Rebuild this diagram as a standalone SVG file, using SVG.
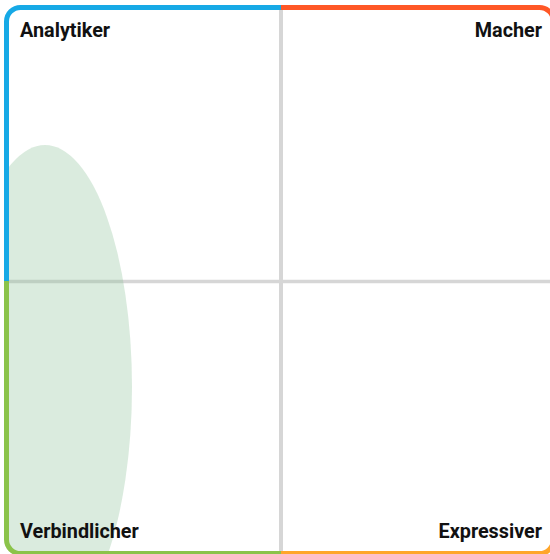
<svg xmlns="http://www.w3.org/2000/svg" width="550" height="554" viewBox="0 0 550 554">
<style>
.lbl{font-family:Roboto,"Liberation Sans",sans-serif;font-weight:700;font-size:19.8px;fill:#111}
.frame{fill:none;stroke-width:5}
.div{stroke:#d6d6d6;fill:none}
</style>
<defs>
<clipPath id="inner"><rect x="9" y="10" width="542" height="541"/></clipPath>
</defs>
<rect width="550" height="554" fill="#fff"/>
<g id="dividers">
<line class="div" x1="281" y1="10" x2="281" y2="551" stroke-width="4"/>
<line class="div" x1="9" y1="281.5" x2="551" y2="281.5" stroke-width="3.5"/>
</g>
<g id="highlight" clip-path="url(#inner)">
<ellipse cx="45" cy="387" rx="87" ry="242" fill="#8BC097" fill-opacity="0.32"/>
</g>
<g id="q-analytiker">
<path class="frame" stroke="#16A9E6" d="M6.5,281 V21.5 A14,14 0 0 1 20.5,7.5 H281"/>
<text class="lbl" x="20" y="37">Analytiker</text>
</g>
<g id="q-macher">
<path class="frame" stroke="#FF5726" d="M281,7.5 H539.5 A14,14 0 0 1 553.5,21.5 V281"/>
<text class="lbl" x="542" y="37" text-anchor="end">Macher</text>
</g>
<g id="q-expressiver">
<path class="frame" stroke="#FFA62B" d="M553.5,281 V539.5 A14,14 0 0 1 539.5,553.5 H281"/>
<text class="lbl" x="542" y="538" text-anchor="end">Expressiver</text>
</g>
<g id="q-verbindlicher">
<path class="frame" stroke="#8BC34A" d="M281,553.5 H20.5 A14,14 0 0 1 6.5,539.5 V281"/>
<text class="lbl" x="20" y="538">Verbindlicher</text>
</g>
</svg>
